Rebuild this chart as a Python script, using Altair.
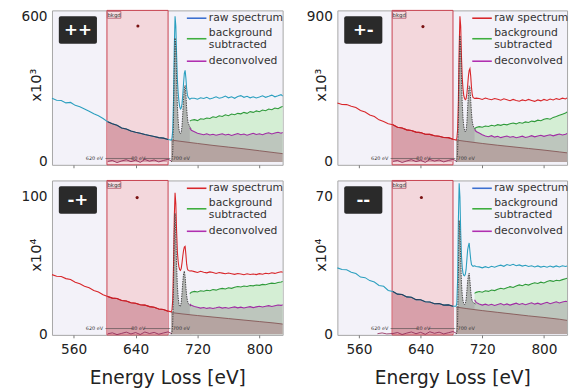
import altair as alt
import pandas as pd

FONT = "DejaVu Sans"
X_DOMAIN = [532, 830]
X_TICKS = [560, 640, 720, 800]
BOX = [603, 682]

# ---------------- energy grids (eV) ----------------
E_LEFT = [532, 538, 544, 550, 556, 562, 568, 574, 580, 586, 592, 598, 604,
          610, 616, 622, 628, 634, 640, 646, 652, 658, 664, 670, 676, 682, 686]
E_PEAK = [687, 688, 689, 690, 691, 692, 693, 694, 695, 696, 697, 698, 699,
          700, 701, 702, 703, 704, 705, 706, 707, 708, 710, 712]
E_RIGHT = [716, 720, 724, 728, 732, 736, 740, 744, 748, 752, 756, 760, 764,
           768, 772, 776, 780, 784, 788, 792, 796, 800, 804, 808, 812, 816,
           820, 824, 828, 830]
E_GP = [710, 712] + E_RIGHT
E_EDGE = [686] + E_PEAK
E_BG = [686, 700, 720, 740, 760, 780, 800, 820, 830]
E_RES = [604, 610, 616, 622, 628, 634, 640, 646, 652, 658, 664, 670, 676, 682, 686]
E_RES_MM = [584, 590, 596] + E_RES

# ---------------- panel "++" (x10^3) ----------------
PP_RAW_LEFT = [262, 254, 253, 243, 245, 233, 227, 218, 209, 198, 190, 179, 165,
               157, 151, 140, 136, 127, 122, 118, 113, 109, 105, 100, 98, 92, 90]
PP_RAW_PEAK = [96, 130, 250, 470, 600, 560, 440, 340, 285, 250, 228, 218, 222,
               240, 275, 325, 365, 377, 345, 300, 275, 266, 258, 262]
PP_RAW_RIGHT = [262, 258, 264, 261, 266, 259, 263, 268, 262, 265, 271, 264, 268,
                262, 269, 273, 266, 270, 264, 268, 263, 267, 272, 266, 270, 275,
                268, 272, 277, 271]
PP_EDGE = [0, 5, 40, 170, 390, 510, 470, 340, 230, 170, 135, 120, 116, 122, 148,
           200, 260, 300, 315, 280, 220, 180, 160, 145, 135]
PP_GREEN = [168, 172, 174, 170, 178, 176, 181, 179, 186, 183, 190, 187, 194, 190,
            197, 194, 200, 198, 204, 200, 207, 204, 210, 207, 214, 211, 218, 215,
            222, 219, 226, 228]
PP_PURPLE = [140, 130, 124, 118, 115, 112, 116, 111, 114, 110, 113, 116, 111, 114,
             109, 113, 117, 112, 115, 110, 114, 118, 113, 116, 112, 117, 120, 115,
             119, 122, 118, 121]
PP_BG = [90, 84, 76, 68, 61, 54, 46, 38, 34]
PP_RES = [2, 6, -3, 4, 9, 1, 7, -2, 10, 3, 8, 0, 6, 11, 4]
PP_DOT = [643, 560]

# ---------------- panel "+-" (x10^3) ----------------
PM_RAW_LEFT = [364, 355, 354, 344, 336, 318, 308, 290, 280, 260, 250, 236, 230,
               214, 209, 198, 194, 184, 181, 171, 170, 162, 159, 151, 150, 140, 135]
PM_RAW_PEAK = [145, 200, 380, 700, 900, 840, 650, 520, 450, 410, 392, 385, 390,
               420, 470, 530, 565, 576, 530, 460, 415, 398, 392, 394]
PM_RAW_RIGHT = [392, 386, 395, 389, 384, 392, 387, 381, 390, 384, 378, 386, 380,
                375, 383, 378, 386, 380, 374, 383, 377, 386, 380, 388, 383, 391,
                386, 394, 389, 396]
PM_EDGE = [0, 8, 60, 250, 600, 780, 700, 520, 360, 270, 220, 195, 185, 195, 240,
           330, 420, 470, 460, 380, 300, 250, 225, 205, 195]
PM_GREEN = [205, 212, 218, 214, 222, 219, 226, 222, 230, 226, 233, 229, 236, 240,
            235, 243, 239, 247, 244, 252, 249, 258, 254, 263, 268, 264, 275, 281,
            288, 295, 302, 308]
PM_PURPLE = [200, 188, 178, 168, 160, 156, 162, 153, 158, 150, 155, 160, 152, 157,
             149, 154, 159, 151, 156, 162, 155, 160, 165, 158, 163, 168, 161, 167,
             172, 166, 171, 176]
PM_BG = [135, 126, 114, 103, 93, 83, 73, 62, 56]
PM_RES = [3, 9, -4, 6, 14, 2, 10, -3, 15, 5, 12, 0, 9, 16, 6]
PM_DOT = [643, 836]

# ---------------- panel "-+" (x10^4) ----------------
MP_RAW_LEFT = [43.4, 42.2, 42.0, 40.5, 39.9, 37.9, 36.8, 35.0, 33.9, 31.8, 30.8,
               28.7, 27.5, 26.3, 26.0, 24.6, 24.2, 22.9, 22.6, 21.4, 21.2, 20.1,
               19.6, 18.3, 18.0, 16.8, 16.3]
MP_RAW_PEAK = [17.5, 25, 50, 85, 103, 95, 75, 60, 53, 49, 47, 46.5, 48, 52, 57,
               61, 63.5, 64, 58, 51, 47.5, 46.5, 46, 46.2]
MP_RAW_RIGHT = [45.6, 45.0, 45.8, 45.2, 44.7, 45.4, 44.9, 44.3, 45.0, 44.5, 44.0,
                44.6, 44.1, 43.6, 44.2, 43.8, 43.3, 44.0, 43.5, 43.9, 43.4, 44.1,
                43.7, 44.4, 44.0, 44.7, 44.3, 45.0, 45.5, 45.1]
MP_EDGE = [0, 1, 8, 35, 75, 88, 72, 50, 35, 27, 22, 20, 20.5, 23, 30, 38, 44, 46,
           42, 34, 28, 24.5, 22.5, 21, 20.5]
MP_GREEN = [29.5, 30.5, 31.2, 30.8, 31.6, 31.3, 32.0, 31.7, 32.5, 32.1, 32.9, 33.4,
            33.0, 33.8, 33.4, 34.2, 34.8, 34.4, 35.1, 34.8, 35.5, 35.2, 35.9, 35.6,
            36.3, 36.0, 36.7, 37.2, 37.0, 37.6, 38.1, 38.4]
MP_PURPLE = [22.0, 21.0, 20.2, 19.6, 19.0, 19.5, 18.8, 19.3, 18.7, 19.2, 19.8, 19.0,
             19.5, 18.9, 19.4, 19.9, 19.2, 19.7, 19.1, 19.6, 20.1, 19.4, 19.9, 20.4,
             19.8, 20.3, 20.8, 20.2, 20.8, 21.3, 21.0, 21.5]
MP_BG = [15.8, 14.8, 13.6, 12.5, 11.4, 10.3, 9.2, 8.1, 7.4]
MP_RES = [0.3, 1.0, -0.3, 0.6, 1.5, 0.2, 1.2, -0.2, 1.6, 0.5, 1.3, 0.0, 0.9, 1.7, 0.6]
MP_DOT = [642, 99.5]

# ---------------- panel "--" (x10^4) ----------------
MM_RAW_LEFT = [33.8, 33.0, 32.8, 31.6, 30.9, 29.1, 28.8, 27.3, 26.6, 24.8, 24.4,
               22.3, 21.7, 20.4, 20.2, 19.0, 18.8, 17.6, 17.5, 16.5, 16.4, 15.5,
               15.6, 14.8, 14.9, 14.2, 14.2]
MM_RAW_PEAK = [16, 28, 58, 77, 70, 52, 40, 34, 31, 30, 29.8, 30.5, 33, 38, 43, 45,
               46.5, 42, 38, 35.5, 34.9, 34.6, 34.9, 34.5]
MM_RAW_RIGHT = [34.3, 33.8, 34.4, 33.9, 34.6, 34.1, 34.8, 35.2, 34.6, 35.5, 35.0,
                35.6, 34.9, 35.3, 34.7, 35.1, 34.5, 34.9, 34.3, 34.8, 34.2, 34.6,
                34.1, 34.7, 34.2, 34.8, 34.3, 34.9, 34.5, 34.8]
MM_EDGE = [0, 0.8, 6, 30, 58, 52, 38, 26, 20, 17, 15.5, 15.0, 15.5, 17.5, 22, 27,
           30, 31, 27, 22, 18.5, 16.8, 16.2, 15.6, 15.2]
MM_GREEN = [20.8, 21.3, 21.7, 21.4, 22.1, 21.8, 22.5, 22.2, 22.9, 23.4, 23.0, 23.7,
            24.2, 23.8, 24.6, 25.1, 24.7, 25.4, 25.0, 25.7, 26.2, 25.8, 26.5, 26.1,
            26.8, 27.3, 26.9, 27.5, 27.2, 27.8, 28.3, 28.5]
MM_PURPLE = [17.5, 16.2, 15.4, 14.8, 15.3, 14.7, 15.2, 14.6, 15.1, 15.6, 14.9, 15.4,
             14.8, 15.3, 15.8, 15.1, 15.6, 15.0, 15.5, 16.0, 15.3, 15.8, 15.2, 15.7,
             16.2, 15.5, 16.0, 16.5, 15.9, 16.4, 16.8, 16.6]
MM_BG = [13.8, 13.0, 12.0, 11.1, 10.2, 9.3, 8.5, 7.6, 7.0]
MM_RES = [0.2, 0.6, 0.1, 0.3, 0.8, -0.2, 0.5, 1.1, 0.2, 0.9, -0.1, 1.2, 0.4, 1.0,
          0.1, 0.7, 1.3, 0.5]
MM_DOT = [641, 69.7]

BLUE_LINE, BLUE_BOX, BLUE_LEG = "#2b9fbf", "#2b3b58", "#3b6fd0"
RED_LINE, RED_BOX, RED_LEG = "#d8262a", "#c41f28", "#d8262a"

PANELS = [
    dict(tag="++", ymax=600, ydom=[-12, 624], ytitle="x10\u00b3",
         raw=PP_RAW_LEFT + PP_RAW_PEAK + PP_RAW_RIGHT, edge=PP_EDGE,
         green=PP_GREEN, purple=PP_PURPLE, bg=PP_BG, res_e=E_RES, res=PP_RES,
         dot=PP_DOT, line=BLUE_LINE, box=BLUE_BOX, leg=BLUE_LEG),
    dict(tag="+-", ymax=900, ydom=[-18, 936], ytitle="x10\u00b3",
         raw=PM_RAW_LEFT + PM_RAW_PEAK + PM_RAW_RIGHT, edge=PM_EDGE,
         green=PM_GREEN, purple=PM_PURPLE, bg=PM_BG, res_e=E_RES, res=PM_RES,
         dot=PM_DOT, line=RED_LINE, box=RED_BOX, leg=RED_LEG),
    dict(tag="-+", ymax=100, ydom=[-0.5, 112], ytitle="x10\u2074",
         raw=MP_RAW_LEFT + MP_RAW_PEAK + MP_RAW_RIGHT, edge=MP_EDGE,
         green=MP_GREEN, purple=MP_PURPLE, bg=MP_BG, res_e=E_RES, res=MP_RES,
         dot=MP_DOT, line=RED_LINE, box=RED_BOX, leg=RED_LEG),
    dict(tag="--", ymax=70, ydom=[-0.4, 78.4], ytitle="x10\u2074",
         raw=MM_RAW_LEFT + MM_RAW_PEAK + MM_RAW_RIGHT, edge=MM_EDGE,
         green=MM_GREEN, purple=MM_PURPLE, bg=MM_BG, res_e=E_RES_MM, res=MM_RES,
         dot=MM_DOT, line=BLUE_LINE, box=BLUE_BOX, leg=BLUE_LEG),
]

H = 158
ONE = pd.DataFrame({"a": [0]})


def panel(p, w, bottom):
    xs = alt.Scale(domain=X_DOMAIN, nice=False, zero=False)
    ys = alt.Scale(domain=p["ydom"], nice=False, zero=False)
    if bottom:
        xax = alt.Axis(values=X_TICKS, title="Energy Loss [eV]", labelFontSize=14,
                       labelColor="#222", tickSize=3, labelPadding=5, titleFontSize=19,
                       titleFontWeight="normal", titleColor="#222", titlePadding=13,
                       domain=False, grid=False, tickColor="#777", zindex=1)
    else:
        xax = alt.Axis(values=X_TICKS, labels=False, title=None, tickSize=3,
                       domain=False, grid=False, tickColor="#777", zindex=1)
    yax = alt.Axis(values=[0, p["ymax"]], title=p["ytitle"], ticks=False,
                   labelPadding=5, labelFontSize=14, labelColor="#222", domain=False,
                   grid=False, titleFontSize=15, titleFontWeight="normal",
                   titleColor="#222", titleX=-17, titleY=76, titleAngle=270,
                   titleAlign="center", titleBaseline="middle", zindex=1)

    def X(f="e"):
        return alt.X(f"{f}:Q", scale=xs, axis=xax)

    def Y(f="v"):
        return alt.Y(f"{f}:Q", scale=ys, axis=yax)

    raw = pd.DataFrame({"e": E_LEFT + E_PEAK + E_RIGHT, "v": p["raw"]})
    gp = pd.DataFrame({"e": E_GP, "g": p["green"], "p": p["purple"]})
    edge = pd.DataFrame({"e": E_EDGE, "v": p["edge"]})
    bg = pd.DataFrame({"e": E_BG, "v": p["bg"]})
    res = pd.DataFrame({"e": p["res_e"], "v": p["res"]})
    dot = pd.DataFrame({"e": [p["dot"][0]], "v": [p["dot"][1]]})
    box = pd.DataFrame({"lo": [BOX[0]], "hi": [BOX[1]]})
    inbox = alt.FieldRangePredicate(field="e", range=[604, 682])
    zero = alt.datum(0)

    L = []
    L.append(alt.Chart(box).mark_rect(fill="#f3d7dc", stroke="#c8404e", strokeWidth=1)
             .encode(x=alt.X("lo:Q", scale=xs, axis=xax), x2="hi:Q",
                     y=alt.value(0), y2=alt.value(H)))
    L.append(alt.Chart(raw).transform_filter(inbox).mark_area(color="#d8a0aa")
             .encode(x=X(), y=Y(), y2=zero))
    L.append(alt.Chart(gp).mark_area(color="#d4eed4").encode(x=X(), y=Y("g"), y2=zero))
    L.append(alt.Chart(edge).mark_area(color="#b0b3b0").encode(x=X(), y=Y(), y2=zero))
    L.append(alt.Chart(gp).mark_area(color="#bdc6bd").encode(x=X(), y=Y("p"), y2=zero))
    L.append(alt.Chart(bg).mark_area(color="#b5a4a1").encode(x=X(), y=Y(), y2=zero))
    L.append(alt.Chart(bg).mark_line(color="#7d4a4a", strokeWidth=0.8).encode(x=X(), y=Y()))
    L.append(alt.Chart(raw).mark_line(color=p["line"], strokeWidth=1.1).encode(x=X(), y=Y()))
    L.append(alt.Chart(raw).transform_filter(inbox)
             .mark_line(color=p["box"], strokeWidth=1.1).encode(x=X(), y=Y()))
    L.append(alt.Chart(edge).mark_line(color="#3a3a3a", strokeWidth=0.9,
                                       strokeDash=[1.5, 1]).encode(x=X(), y=Y()))
    L.append(alt.Chart(gp).mark_line(color="#2f9a3a", strokeWidth=1.1).encode(x=X(), y=Y("g")))
    L.append(alt.Chart(gp).mark_line(color="#a02ca4", strokeWidth=1.1).encode(x=X(), y=Y("p")))
    L.append(alt.Chart(res).mark_line(color="#8c1d50", strokeWidth=0.8).encode(x=X(), y=Y()))

    # window annotation at the bottom
    seg = pd.DataFrame({"a": [601, 651], "b": [636, 685]})
    L.append(alt.Chart(seg).mark_rule(color="#444", strokeWidth=0.6)
             .encode(x=X("a"), x2="b:Q", y=alt.value(151.5)))
    for e_, t_, al in [(598, "620 eV", "right"), (643.5, "80 eV", "center"),
                       (688, "700 eV", "left")]:
        L.append(alt.Chart(pd.DataFrame({"e": [e_], "t": [t_]}))
                 .mark_text(align=al, baseline="middle", fontSize=5, color="#333")
                 .encode(x=X(), y=alt.value(151.5), text="t:N"))
    # bkgd tag
    L.append(alt.Chart(pd.DataFrame({"lo": [603.5], "hi": [621]}))
             .mark_rect(fill="#f4dde0", stroke="#b05060", strokeWidth=0.8)
             .encode(x=X("lo"), x2="hi:Q", y=alt.value(1), y2=alt.value(8)))
    L.append(alt.Chart(pd.DataFrame({"e": [612.2], "t": ["bkgd"]}))
             .mark_text(fontSize=5.5, color="#333", baseline="middle")
             .encode(x=X(), y=alt.value(4.6), text="t:N"))
    L.append(alt.Chart(dot).mark_point(filled=True, size=10, color="#7a1212", opacity=1)
             .encode(x=X(), y=Y()))

    # legend
    for yy, col in [(8, p["leg"]), (29, "#3fae3f"), (52, "#b02fb0")]:
        L.append(alt.Chart(ONE).mark_rule(color=col, strokeWidth=1.6)
                 .encode(x=alt.value(138), x2=alt.value(158), y=alt.value(yy)))
    for yy, t_ in [(8, "raw spectrum"), (23, "background"), (35, "subtracted"),
                   (52, "deconvolved")]:
        L.append(alt.Chart(ONE).mark_text(align="left", baseline="middle", fontSize=11,
                                          color="#333", text=t_)
                 .encode(x=alt.value(160.5), y=alt.value(yy)))
    # panel tag
    L.append(alt.Chart(ONE).mark_rect(fill="#2a2a2a", cornerRadius=2)
             .encode(x=alt.value(7), x2=alt.value(46), y=alt.value(6), y2=alt.value(34)))
    L.append(alt.Chart(ONE).mark_text(fontSize=17, fontWeight="bold", color="white",
                                      text=p["tag"], baseline="middle")
             .encode(x=alt.value(26.5), y=alt.value(20.5)))

    return alt.layer(*L).properties(width=w, height=H)


charts = [panel(PANELS[0], 236, False), panel(PANELS[1], 235, False),
          panel(PANELS[2], 236, True), panel(PANELS[3], 235, True)]

chart = alt.concat(*charts, columns=2).properties(
    spacing={"row": 16, "column": 56}, bounds="flush",
    padding={"left": 12, "top": -4, "right": 0, "bottom": 0},
).configure(font=FONT).configure_view(fill="#f3f2f9", stroke="#a5a5a5", strokeWidth=1)

chart.save("out.html", embed_options={"renderer": "svg", "actions": False})
